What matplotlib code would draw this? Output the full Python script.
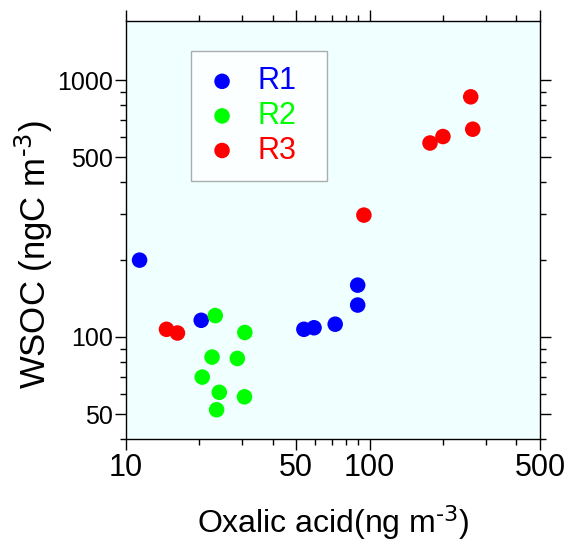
import numpy as np
import matplotlib.pyplot as plt
from matplotlib.ticker import LogLocator, NullFormatter, FixedLocator, FixedFormatter

plt.rcParams['font.family'] = ['Liberation Sans', 'DejaVu Sans']
plt.rcParams['mathtext.default'] = 'regular'

# oxalic acid (ng m-3) vs WSOC (ngC m-3)
r1_oxalic = [11.4, 20.4, 53.8, 59.2, 72.3, 89.4, 89.4]
r1_wsoc = [199, 116, 107, 108.5, 112, 133, 159]

r2_oxalic = [23.3, 30.8, 22.6, 28.7, 20.6, 24.2, 30.7, 23.6]
r2_wsoc = [121, 104, 83.4, 82.4, 69.7, 60.8, 58.4, 52]

r3_oxalic = [14.7, 16.3, 94.8, 177, 200, 260, 265]
r3_wsoc = [107, 103.5, 298, 569, 603, 861, 644]

series = [
    ('R1', r1_oxalic, r1_wsoc, '#0000ff'),
    ('R2', r2_oxalic, r2_wsoc, '#00ff00'),
    ('R3', r3_oxalic, r3_wsoc, '#ff0000'),
]

x_ticks = [10, 50, 100, 500]
y_ticks = [50, 100, 500, 1000]

fig = plt.figure(figsize=(5.69, 5.45), dpi=100)
ax = fig.add_axes([0.2209, 0.1945, 0.7281, 0.767])
ax.set_facecolor('#f0ffff')

for name, xs, ys, col in series:
    ax.scatter(xs, ys, s=125, color=col, edgecolors='none', label=name, zorder=3)

ax.set_xscale('log')
ax.set_yscale('log')
ax.set_xlim(10, 500)
ax.set_ylim(40, 1700)

ax.xaxis.set_major_locator(FixedLocator(x_ticks))
ax.xaxis.set_major_formatter(FixedFormatter([str(v) for v in x_ticks]))
ax.xaxis.set_minor_locator(LogLocator(base=10, subs=np.arange(2, 10)))
ax.xaxis.set_minor_formatter(NullFormatter())
ax.yaxis.set_major_locator(FixedLocator(y_ticks))
ax.yaxis.set_major_formatter(FixedFormatter([str(v) for v in y_ticks]))
ax.yaxis.set_minor_locator(LogLocator(base=10, subs=np.arange(2, 10)))
ax.yaxis.set_minor_formatter(NullFormatter())

ax.tick_params(which='both', direction='out', top=True, right=True, width=1)
ax.tick_params(which='major', length=8)
ax.tick_params(which='minor', length=4.5)
ax.tick_params(axis='x', which='major', labelsize=22, pad=2)
ax.tick_params(axis='y', which='major', labelsize=18, pad=1)
for sp in ax.spines.values():
    sp.set_linewidth(1)

ax.set_xlabel(r'Oxalic acid(ng m$^{\text{-3}}$)', fontsize=23)
ax.xaxis.set_label_coords(0.5, -0.152)
ax.set_ylabel(r'WSOC (ngC m$^{\text{-3}}$)', fontsize=25)
ax.yaxis.set_label_coords(-0.17, 0.44)

leg = ax.legend(loc='upper left', bbox_to_anchor=(0.157, 0.928, 0.328, 0.0),
                mode='expand', borderaxespad=0,
                fontsize=22, frameon=True, fancybox=False, edgecolor='#999999',
                handlelength=1.05, handletextpad=0.65, labelspacing=0.15,
                borderpad=0.5, scatterpoints=1)
leg.get_frame().set_facecolor('white')
leg.get_frame().set_linewidth(1)
for txt, (_, _, _, col) in zip(leg.get_texts(), series):
    txt.set_color(col)

fig.savefig('out.png', dpi=100)
